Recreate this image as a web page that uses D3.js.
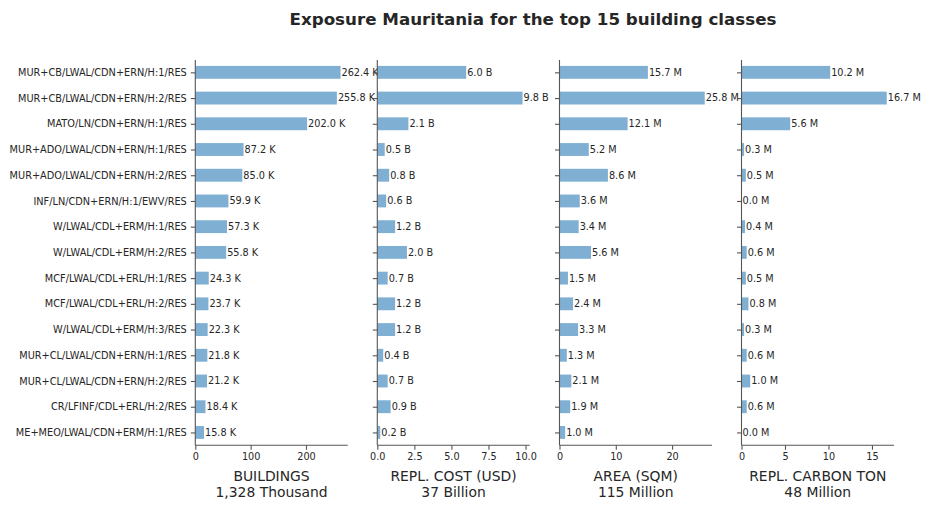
<!DOCTYPE html>
<html>
<head>
<meta charset="utf-8">
<script src="https://cdn.jsdelivr.net/npm/d3@7"></script>
<style>
  body { margin: 0; background: #fff; }
  svg { font-family: "DejaVu Sans", sans-serif; }
</style>
</head>
<body>
<svg id="chart" width="930" height="510"></svg>
<script>
const categories = [
  "MUR+CB/LWAL/CDN+ERN/H:1/RES",
  "MUR+CB/LWAL/CDN+ERN/H:2/RES",
  "MATO/LN/CDN+ERN/H:1/RES",
  "MUR+ADO/LWAL/CDN+ERN/H:1/RES",
  "MUR+ADO/LWAL/CDN+ERN/H:2/RES",
  "INF/LN/CDN+ERN/H:1/EWV/RES",
  "W/LWAL/CDL+ERM/H:1/RES",
  "W/LWAL/CDL+ERM/H:2/RES",
  "MCF/LWAL/CDL+ERL/H:1/RES",
  "MCF/LWAL/CDL+ERL/H:2/RES",
  "W/LWAL/CDL+ERM/H:3/RES",
  "MUR+CL/LWAL/CDN+ERN/H:1/RES",
  "MUR+CL/LWAL/CDN+ERN/H:2/RES",
  "CR/LFINF/CDL+ERL/H:2/RES",
  "ME+MEO/LWAL/CDN+ERM/H:1/RES"
];
// values in thousands
const buildings = [262.4, 255.8, 202.0, 87.2, 85.0, 59.9, 57.3, 55.8, 24.3, 23.7, 22.3, 21.8, 21.2, 18.4, 15.8];
// values in billions USD
const replCost = [6.0, 9.8, 2.1, 0.5, 0.8, 0.6, 1.2, 2.0, 0.7, 1.2, 1.2, 0.4, 0.7, 0.9, 0.2];
// values in millions sqm
const area = [15.7, 25.8, 12.1, 5.2, 8.6, 3.6, 3.4, 5.6, 1.5, 2.4, 3.3, 1.3, 2.1, 1.9, 1.0];
// values in millions ton
const carbon = [10.2, 16.7, 5.6, 0.3, 0.5, 0.0, 0.4, 0.6, 0.5, 0.8, 0.3, 0.6, 1.0, 0.6, 0.0];

const panelTitles = ["BUILDINGS", "REPL. COST (USD)", "AREA (SQM)", "REPL. CARBON TON"];
const panelTotals = ["1,328 Thousand", "37 Billion", "115 Million", "48 Million"];
const panelUnits = ["K", "B", "M", "M"];
const panelTicks = [[0, 100, 200], [0, 2.5, 5, 7.5, 10], [0, 10, 20], [0, 5, 10, 15]];
const panelTickFmt = [d3.format("d"), d3.format(".1f"), d3.format("d"), d3.format("d")];
const series = [buildings, replCost, area, carbon];

const svg = d3.select("#chart");
const textColor = "#262626";
const spineColor = "#555555";
const barColor = "#7fafd3";

const panelLeft = [195.3, 377.3, 559.5, 741.5];
const panelWidth = 152.5;
const plotTop = 60, plotBottom = 445.3;

const y = d3.scaleLinear().domain([-0.48, 14.5]).range([plotTop, plotBottom]);
const unitPx = y(1) - y(0);
const barH = unitPx * 0.5;

svg.append("text")
  .attr("x", 533).attr("y", 24.5)
  .attr("text-anchor", "middle")
  .attr("font-size", "16.7px").attr("font-weight", "bold")
  .attr("fill", textColor)
  .text("Exposure Mauritania for the top 15 building classes");

series.forEach((vals, p) => {
  const g = svg.append("g").attr("transform", `translate(${panelLeft[p]},0)`);
  const maxV = d3.max(vals) * 1.05;
  const x = d3.scaleLinear().domain([0, maxV]).range([0, panelWidth]);

  g.selectAll("rect.bar").data(vals).enter().append("rect")
    .attr("class", "bar")
    .attr("x", 0)
    .attr("y", (d, i) => y(i) - barH / 2)
    .attr("width", d => x(d))
    .attr("height", barH)
    .attr("fill", barColor);

  g.selectAll("text.val").data(vals).enter().append("text")
    .attr("class", "val")
    .attr("x", d => x(d) + 1)
    .attr("y", (d, i) => y(i))
    .attr("dy", "0.35em")
    .attr("font-size", "9.7px")
    .attr("fill", textColor)
    .text(d => d.toFixed(1) + " " + panelUnits[p]);

  // y axis
  const yAxis = d3.axisLeft(y).tickValues(d3.range(15)).tickSize(4.5).tickPadding(4)
    .tickFormat(i => p === 0 ? categories[i] : "");
  const ya = g.append("g").call(yAxis);
  ya.select(".domain").attr("stroke", spineColor).attr("stroke-width", 1.1)
    .attr("d", `M0,${plotTop}V${plotBottom}`);
  ya.selectAll(".tick line").attr("stroke", spineColor).attr("stroke-width", 1.1);
  ya.selectAll(".tick text").attr("font-size", "9.75px").attr("fill", textColor)
    .attr("font-family", "DejaVu Sans, sans-serif");

  // x axis
  const xAxis = d3.axisBottom(x).tickValues(panelTicks[p]).tickSize(4.5).tickPadding(3)
    .tickFormat(panelTickFmt[p]);
  const xa = g.append("g").attr("transform", `translate(0,${plotBottom})`).call(xAxis);
  xa.select(".domain").attr("stroke", spineColor).attr("stroke-width", 1.1)
    .attr("d", `M0,0H${panelWidth}`);
  xa.selectAll(".tick line").attr("stroke", spineColor).attr("stroke-width", 1.1);
  xa.selectAll(".tick text").attr("font-size", "9.7px").attr("fill", textColor)
    .attr("font-family", "DejaVu Sans, sans-serif");

  g.append("text")
    .attr("x", panelWidth / 2).attr("y", 481)
    .attr("text-anchor", "middle")
    .attr("font-size", "13.9px").attr("fill", textColor)
    .text(panelTitles[p]);
  g.append("text")
    .attr("x", panelWidth / 2).attr("y", 497)
    .attr("text-anchor", "middle")
    .attr("font-size", "13.9px").attr("fill", textColor)
    .text(panelTotals[p]);
});
</script>
</body>
</html>
